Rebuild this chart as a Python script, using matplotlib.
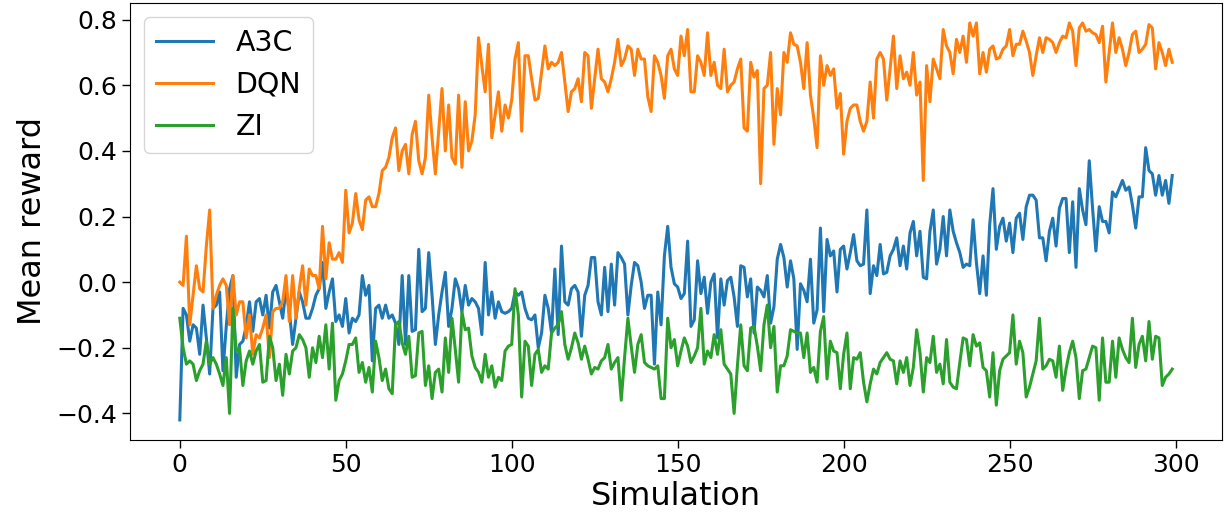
import matplotlib
matplotlib.use("Agg")
import matplotlib.pyplot as plt
import numpy as np

dqn = [0.0, -0.01, 0.14, -0.13, -0.04, 0.05, -0.02, -0.03, 0.11, 0.22, -0.08, -0.04, -0.01, 0.01, -0.01, -0.13, 0.02, -0.10, -0.06, -0.06, -0.17, -0.10, -0.22, -0.16, -0.17, -0.14, -0.10, -0.23, -0.09, -0.08, -0.08, -0.06, 0.02, -0.12, 0.02, -0.11, -0.02, 0.05, -0.07, 0.04, 0.02, 0.02, -0.02, 0.17, 0.01, 0.12, 0.07, 0.07, 0.09,
       0.06, 0.28, 0.15, 0.18, 0.27, 0.19, 0.16, 0.25, 0.26, 0.23, 0.23, 0.27, 0.34, 0.35, 0.38, 0.44, 0.47, 0.34, 0.40, 0.42, 0.33, 0.45, 0.49, 0.37, 0.33, 0.38, 0.57, 0.44, 0.33, 0.46, 0.59, 0.40, 0.54, 0.38, 0.36, 0.57, 0.35, 0.55, 0.40, 0.43, 0.51, 0.745, 0.66, 0.58, 0.725, 0.44, 0.51, 0.58, 0.46, 0.54,
       0.50, 0.555, 0.68, 0.73, 0.46, 0.69, 0.69, 0.62, 0.555, 0.56, 0.64, 0.72, 0.65, 0.67, 0.66, 0.67, 0.70, 0.61, 0.52, 0.58, 0.59, 0.62, 0.55, 0.70, 0.69, 0.53, 0.62, 0.71, 0.62, 0.61, 0.58, 0.62, 0.67, 0.74, 0.66, 0.68, 0.72, 0.71, 0.63, 0.71, 0.68, 0.68, 0.565, 0.52, 0.69, 0.67, 0.63, 0.56, 0.69, 0.71,
       0.65, 0.63, 0.75, 0.69, 0.77, 0.58, 0.58, 0.69, 0.67, 0.63, 0.76, 0.63, 0.67, 0.60, 0.59, 0.71, 0.58, 0.60, 0.61, 0.65, 0.68, 0.47, 0.46, 0.67, 0.625, 0.645, 0.30, 0.59, 0.60, 0.70, 0.42, 0.59, 0.51, 0.70, 0.67, 0.76, 0.725, 0.72, 0.67, 0.59, 0.73, 0.57, 0.50, 0.41, 0.69, 0.60, 0.66, 0.63, 0.65,
       0.53, 0.575, 0.39, 0.49, 0.53, 0.54, 0.54, 0.49, 0.46, 0.49, 0.61, 0.50, 0.68, 0.70, 0.68, 0.555, 0.65, 0.75, 0.59, 0.69, 0.62, 0.64, 0.60, 0.70, 0.57, 0.61, 0.31, 0.66, 0.55, 0.68, 0.65, 0.62, 0.77, 0.72, 0.70, 0.635, 0.74, 0.70, 0.75, 0.67, 0.79, 0.75, 0.79, 0.635, 0.70, 0.64, 0.71, 0.72, 0.68, 0.685,
       0.71, 0.72, 0.77, 0.69, 0.725, 0.725, 0.765, 0.735, 0.70, 0.63, 0.69, 0.745, 0.70, 0.745, 0.74, 0.73, 0.70, 0.73, 0.75, 0.745, 0.79, 0.765, 0.66, 0.775, 0.79, 0.765, 0.77, 0.76, 0.755, 0.73, 0.78, 0.61, 0.70, 0.79, 0.70, 0.745, 0.71, 0.66, 0.70, 0.755, 0.765, 0.70, 0.71, 0.725, 0.785, 0.775, 0.65, 0.73, 0.70, 0.66, 0.71, 0.67]

a3c = [-0.42, -0.08, -0.10, -0.18, -0.13, -0.14, -0.22, -0.07, -0.17, -0.28, -0.08, -0.07, -0.03, -0.27, -0.135, -0.02, 0.02, -0.29, -0.19, -0.18, -0.135, -0.06, -0.15, -0.06, -0.05, -0.10, -0.04, -0.14, -0.03, -0.01, -0.06, -0.11, -0.02, -0.09, -0.19, -0.11, -0.03, -0.06, -0.11, -0.11, -0.08, -0.04, -0.02, 0.06, -0.08, -0.03, 0.01, -0.12, -0.10,
       -0.135, -0.05, -0.155, -0.11, -0.12, -0.10, 0.02, -0.04, -0.01, -0.24, -0.08, -0.07, -0.11, -0.07, -0.11, -0.10, -0.125, -0.19, 0.02, -0.19, 0.02, -0.15, -0.145, 0.10, -0.09, -0.08, 0.09, -0.04, -0.19, -0.10, -0.03, 0.03, -0.135, -0.08, 0.01, -0.02, -0.09, -0.01, -0.07, -0.05, -0.06, -0.08, -0.16, 0.06, -0.10, -0.03, -0.11, -0.06, -0.09, -0.095,
       -0.09, -0.08, -0.03, -0.04, -0.03, -0.08, -0.11, -0.115, -0.10, -0.20, -0.155, -0.04, -0.08, -0.155, 0.04, -0.16, 0.11, -0.06, -0.07, -0.02, -0.01, -0.03, -0.165, -0.04, -0.01, 0.075, 0.075, -0.06, -0.10, 0.045, -0.09, 0.055, -0.07, 0.09, 0.075, 0.055, -0.10, -0.01, 0.06, 0.05, 0.0, -0.08, -0.04, -0.04, -0.25, -0.03, -0.13, 0.08, 0.17, 0.045,
       -0.005, -0.015, -0.05, -0.035, 0.125, -0.135, -0.115, 0.065, -0.035, 0.015, -0.095, 0.0, 0.025, -0.17, 0.01, -0.07, 0.005, 0.015, -0.045, -0.135, 0.05, 0.045, -0.045, 0.01, -0.155, -0.015, -0.025, -0.045, 0.02, -0.125, -0.075, 0.07, 0.115, 0.075, -0.015, 0.065, 0.01, -0.205, -0.005, -0.025, -0.06, 0.07, -0.125, -0.085, 0.165, -0.09, 0.13, 0.08, 0.095,
       -0.03, 0.10, 0.11, 0.04, 0.09, 0.145, 0.065, 0.05, 0.055, 0.22, -0.035, 0.05, 0.02, 0.115, 0.025, 0.03, 0.08, 0.10, 0.135, 0.05, 0.11, 0.04, 0.15, 0.185, 0.08, 0.155, 0.015, 0.01, 0.155, 0.22, 0.055, 0.10, 0.20, 0.08, 0.22, 0.155, 0.12, 0.09, 0.045, 0.055, 0.05, 0.19, 0.06, -0.035, 0.08, -0.04, 0.175, 0.285, 0.10, 0.17,
       0.195, 0.125, 0.18, 0.09, 0.195, 0.21, 0.13, 0.23, 0.265, 0.265, 0.25, 0.135, 0.135, 0.065, 0.155, 0.195, 0.11, 0.225, 0.255, 0.255, 0.09, 0.245, 0.045, 0.285, 0.22, 0.175, 0.37, 0.225, 0.095, 0.23, 0.185, 0.185, 0.15, 0.275, 0.26, 0.285, 0.31, 0.28, 0.29, 0.235, 0.165, 0.26, 0.26, 0.41, 0.34, 0.33, 0.265, 0.325, 0.265, 0.31, 0.24, 0.325]

zi = [-0.11, -0.20, -0.25, -0.24, -0.25, -0.30, -0.27, -0.25, -0.18, -0.25, -0.23, -0.25, -0.28, -0.315, -0.23, -0.40, -0.08, -0.21, -0.20, -0.315, -0.24, -0.21, -0.25, -0.21, -0.19, -0.305, -0.30, -0.165, -0.20, -0.30, -0.25, -0.345, -0.22, -0.28, -0.21, -0.20, -0.16, -0.175, -0.20, -0.29, -0.20, -0.245, -0.165, -0.23, -0.13, -0.265, -0.125, -0.36, -0.30,
      -0.28, -0.24, -0.19, -0.19, -0.17, -0.275, -0.245, -0.305, -0.26, -0.335, -0.18, -0.23, -0.30, -0.265, -0.325, -0.34, -0.13, -0.12, -0.185, -0.22, -0.165, -0.29, -0.285, -0.155, -0.15, -0.315, -0.255, -0.355, -0.275, -0.265, -0.335, -0.17, -0.275, -0.11, -0.205, -0.305, -0.09, -0.145, -0.14, -0.225, -0.26, -0.275, -0.305, -0.22, -0.29, -0.255, -0.32, -0.29, -0.30, -0.21,
      -0.195, -0.19, -0.02, -0.10, -0.35, -0.18, -0.195, -0.315, -0.22, -0.205, -0.275, -0.255, -0.265, -0.155, -0.14, -0.13, -0.09, -0.19, -0.235, -0.20, -0.155, -0.185, -0.235, -0.195, -0.235, -0.28, -0.26, -0.265, -0.24, -0.23, -0.19, -0.265, -0.245, -0.23, -0.36, -0.23, -0.11, -0.195, -0.275, -0.19, -0.16, -0.245, -0.255, -0.26, -0.265, -0.255, -0.355, -0.355, -0.11, -0.20,
      -0.175, -0.255, -0.21, -0.17, -0.195, -0.245, -0.225, -0.20, -0.08, -0.25, -0.21, -0.23, -0.16, -0.22, -0.145, -0.25, -0.265, -0.28, -0.40, -0.255, -0.13, -0.255, -0.27, -0.14, -0.135, -0.195, -0.27, -0.13, -0.07, -0.20, -0.135, -0.335, -0.255, -0.255, -0.225, -0.145, -0.15, -0.155, -0.155, -0.23, -0.155, -0.275, -0.26, -0.305, -0.15, -0.105, -0.295, -0.18, -0.21,
      -0.215, -0.325, -0.22, -0.155, -0.325, -0.23, -0.235, -0.215, -0.305, -0.365, -0.31, -0.265, -0.28, -0.245, -0.23, -0.215, -0.235, -0.24, -0.31, -0.24, -0.275, -0.23, -0.315, -0.26, -0.145, -0.215, -0.335, -0.23, -0.245, -0.165, -0.275, -0.25, -0.31, -0.175, -0.305, -0.32, -0.325, -0.245, -0.17, -0.175, -0.255, -0.16, -0.195, -0.185, -0.26, -0.27, -0.35, -0.215, -0.375, -0.27,
      -0.235, -0.225, -0.215, -0.10, -0.25, -0.18, -0.215, -0.35, -0.32, -0.28, -0.24, -0.11, -0.265, -0.255, -0.235, -0.24, -0.29, -0.195, -0.33, -0.265, -0.215, -0.18, -0.23, -0.355, -0.27, -0.265, -0.23, -0.195, -0.20, -0.36, -0.17, -0.305, -0.305, -0.18, -0.29, -0.17, -0.205, -0.23, -0.245, -0.11, -0.26, -0.19, -0.165, -0.24, -0.12, -0.235, -0.165, -0.17, -0.315, -0.29, -0.28, -0.265]

series_names = ["A3C", "DQN", "ZI"]
x_label = "Simulation"
y_label = "Mean reward"

fig = plt.figure(figsize=(12.28, 5.18), dpi=100)
ax = fig.add_axes([0.106, 0.151, 0.889, 0.843])
for name, vals in zip(series_names, [a3c, dqn, zi]):
    ax.plot(np.arange(len(vals)), vals, linewidth=2.2, label=name)

ax.set_xlabel(x_label, fontsize=23, labelpad=3)
ax.set_ylabel(y_label, fontsize=23, labelpad=6)
ax.tick_params(axis="both", labelsize=18, length=6, width=1)
ax.set_xticks([0, 50, 100, 150, 200, 250, 300])
ax.set_yticks([-0.4, -0.2, 0.0, 0.2, 0.4, 0.6, 0.8])
ax.legend(loc="upper left", fontsize=20.5)

fig.savefig("out.png", dpi=100)
